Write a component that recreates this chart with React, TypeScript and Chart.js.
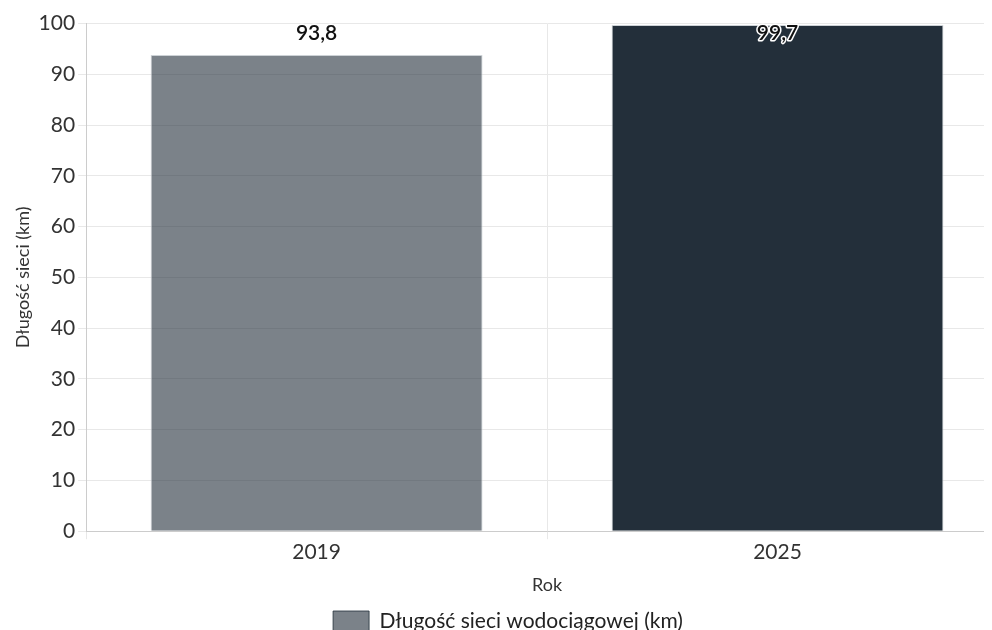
import React, { useEffect, useRef } from "react";
import { Chart, registerables } from "chart.js";

Chart.register(...registerables);

const categories = ["2019", "2025"];
const values = [93.8, 99.7];
const seriesLabel = "Długość sieci wodociągowej (km)";
const barColors = ["rgba(35,47,58,0.6)", "rgba(35,47,58,1)"];
const yTitle = "Długość sieci (km)";
const xTitle = "Rok";

const FONT = "Lato, 'Noto Sans', sans-serif";

const labelPlugin = {
  id: "valueLabels",
  afterDatasetsDraw(chart: any) {
    const ctx = chart.ctx;
    const meta = chart.getDatasetMeta(0);
    const area = chart.chartArea;
    ctx.save();
    ctx.font = `600 21px ${FONT}`;
    ctx.textAlign = "center";
    ctx.textBaseline = "middle";
    meta.data.forEach((bar: any, i: number) => {
      const txt = values[i].toFixed(1).replace(".", ",");
      const y = Math.max(bar.y - 22, area.top + 10);
      ctx.lineWidth = 3;
      ctx.strokeStyle = "#ffffff";
      ctx.lineJoin = "round";
      ctx.strokeText(txt, bar.x, y);
      ctx.fillStyle = "#111111";
      ctx.fillText(txt, bar.x, y);
    });
    ctx.restore();
  },
};

export default function App() {
  const ref = useRef<HTMLCanvasElement | null>(null);
  useEffect(() => {
    if (!ref.current) return;
    const chart = new Chart(ref.current, {
      type: "bar",
      data: {
        labels: categories,
        datasets: [
          {
            label: seriesLabel,
            data: values,
            backgroundColor: barColors,
            borderColor: "rgba(200,205,210,0.9)",
            borderWidth: 1,
            barPercentage: 0.9,
            categoryPercentage: 0.8,
          },
        ],
      },
      options: {
        responsive: true,
        maintainAspectRatio: false,
        animation: false,
        layout: { padding: { top: 6, right: 0, left: 0, bottom: 0 } },
        plugins: {
          legend: {
            position: "bottom",
            labels: {
              font: { family: FONT, size: 21 },
              color: "#222",
              boxWidth: 36,
              boxHeight: 21,
              padding: 13,
              generateLabels: () => [
                {
                  text: seriesLabel,
                  fillStyle: barColors[0],
                  strokeStyle: "rgba(35,47,58,0.8)",
                  lineWidth: 1,
                  fontColor: "#222",
                  datasetIndex: 0,
                  hidden: false,
                } as any,
              ],
            },
          },
          tooltip: { enabled: false },
        },
        scales: {
          x: {
            grid: { color: "#e8e8e8", tickLength: 8 },
            border: { color: "#cccccc" },
            ticks: { font: { family: FONT, size: 21 }, color: "#333", padding: 0 },
            title: {
              display: true,
              text: xTitle,
              font: { family: FONT, size: 18 },
              color: "#333",
              padding: { top: 10, bottom: 2 },
            },
          },
          y: {
            min: 0,
            max: 100,
            grid: { color: "#e8e8e8", tickLength: 8 },
            border: { color: "#cccccc" },
            ticks: { stepSize: 10, font: { family: FONT, size: 21 }, color: "#333" },
            title: {
              display: true,
              text: yTitle,
              font: { family: FONT, size: 18 },
              color: "#333",
              padding: { top: 4, bottom: 2 },
            },
          },
        },
      },
      plugins: [labelPlugin],
    });
    return () => chart.destroy();
  }, []);
  return (
    <div style={{ position: "relative", width: 1000, height: 634 }}>
      <canvas ref={ref} />
    </div>
  );
}
